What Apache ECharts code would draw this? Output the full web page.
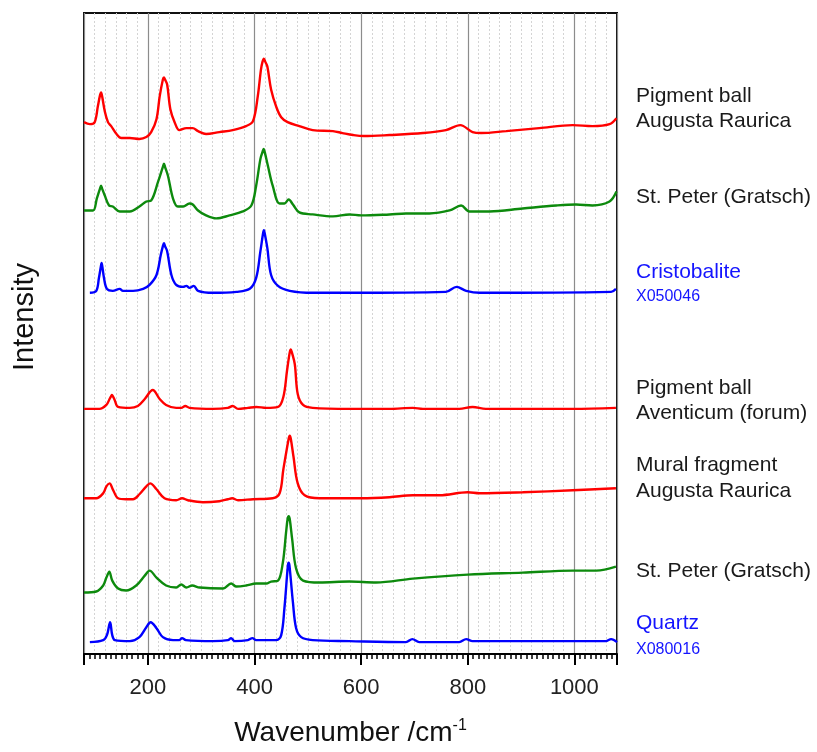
<!DOCTYPE html>
<html>
<head>
<meta charset="utf-8">
<title>Raman spectra</title>
<script src="https://cdn.jsdelivr.net/npm/echarts@6/dist/echarts.min.js"></script>
<style>
  html, body { margin: 0; padding: 0; background: #fff; }
  #chart { width: 817px; height: 752px; }
</style>
</head>
<body>
<div id="chart"></div>
<script>
// Raman spectra, stacked with vertical offsets: [wavenumber /cm-1, intensity + offset]
const pigmentBallAugusta = [
  [80,536],[91,534],[100,536],[106,552],[110,563],[112,566],[114,562],[119,547],[125,536],[131,532],[141,524],[150,520],
  [166,520],[184,519],[197,521],[206,526],[216,539],[222,562],[228,579],[230,581],[232,579],[236,574],[242,549],[250,536],
  [259,528],[272,530],[284,530],[294,527],[309,524],[334,526],[359,528],[384,532],[397,537],[406,562],
  [412,589],[415,597],[417.5,600],[420,597],[424,592],[431,569],[441,551],[450,541],[462,536],[484,532],[509,528],[547,527],
  [565,525],[585,523],[605,522],[653,523],[716,525],[759,528],[786,533],[809,526],[825,525],[872,527],[934,530],
  [997,533],[1034,532],[1066,534],[1079,540]
];
const stPeterUpper = [
  [80,447],[97,447],[104,459],[110,469],[112,472],[114,469],[119,462],[127,452],[134,451],[147,446],[166,446],[184,451],
  [197,456],[206,457],[219,476],[228,491],[230,494],[232,491],[237.5,482],[247,459],[256,451],[266,451],[278,454],[284,453],
  [294,447],[309,442],[328,439],[353,442],[378,446],[394,452],[403,472],[411,499],[415,506],[417,509],[419,506],[425,492],
  [434,472],[447,454],[456,454],[464,458],[472,453],[484,445],[509,443],[547,441],[578,443],[600,442],
  [653,443],[684,444],[728,444],[766,447],[787.5,452],[803,446],[841,446],[903,449],[966,452],[1003,453],
  [1034,452],[1066,456],[1079,466]
];
const cristobalite = [
  [91,364],[103,366],[108,379],[111.5,390],[113,394],[114.5,390],[117.5,379],[123,368],[134,366],[147,368],[153,366],[172,366],
  [191,368],[203,372],[216,382],[224,402],[228,411],[230,414],[232,411],[236,406],[244,382],[253,372],[266,370],[272,371],
  [278,369],[286,371],[294,366],[322,364],[366,365],[391,368],[403,379],[411,406],[416,424],[417.5,427],[419,424],[424,409],
  [431,382],[444,371],[466,366],[509,364],[578,364],[759,365],[779,370],[797,366],[822,364],[1069,365],
  [1078,368]
];
const pigmentBallAventicum = [
  [80,247],[109,247],[122,251],[128,257],[131,260],[132.5,261],[134,260],[137.5,256],[144,249],[166,248],[181,250],[194,257],
  [209,266],[222,257],[234,251],[253,248],[262.5,248],[270,250],[278,248],[322,247],[350,248],[359,250],
  [369,247],[387.5,248],[403,249],[422,248],[444,249],[454,259],[461,286],[466,304],[468,307],[470,304],[475.5,292],[481,262],
  [491,251],[509,248],[578,247],[653,247],[697,248],[716,247],[784,247],[809,249],[834,247],[997,247],
  [1078,248]
];
const muralFragment = [
  [80,157],[103,157],[116,162],[122,169],[128,172],[134,166],[144,157],[159,156],[172,156],[184,161],
  [197,169],[204,172],[216,166],[231,157],[253,155],[264,157],[275,155],[303,153],[334,154],[350,156],
  [358,157],[369,155],[397,156],[434,157],[447,162],[454,186],[464,217],[466,220],[468,217],[473,199],[481,172],[494,160],
  [522,157],[578,157],[600,157],[653,158],[697,160],[747,160],[800,163],[822,162],[903,163],[997,165],
  [1078,167]
];
const stPeterLower = [
  [80,62],[103,63],[116,69],[122,77],[127.5,83],[133,74],[144,66],[159,64],[178,69],[194,79],
  [203,84],[216,77],[234,69],[253,67],[262.5,70],[272,67],[283,69],[297,67],[341,66],[356,71],
  [366,68],[384,69],[403,71],[422,71],[431,73],[444,74],[453,92],[459,122],[462,136],[464,139],[466,136],[470.5,116],
  [478,86],[491,74],[522,72],[578,73],[628,72],[697,76],[800,80],[903,82],[997,84],[1041,84],
  [1078,88]
];
const quartz = [
  [91,12],[116,14],[123,19],[129,32],[133,19],[138,14],[166,13],[184,17],[197,27],[205,32],
  [216,26],[228,17],[247,14],[259,14],[264,16],[271,14],[322,13],[350,14],[356,16],[362.5,13],
  [387.5,14],[396,16],[403,14],[441,14],[450,19],[456,46],[462.5,89],[464,92],[465.5,89],[472,52],[478,26],[487.5,17],
  [509,14],[578,13],[684,12],[696,15],[709,12],[784,12],[797,15],[809,13],[1059,13],[1069,15],
  [1080,12]
];

const spectra = [pigmentBallAugusta, stPeterUpper, cristobalite, pigmentBallAventicum, muralFragment, stPeterLower, quartz];
const spectrumColors = ['#ff0000', '#0d8a0d', '#0000ff', '#ff0000', '#ff0000', '#0d8a0d', '#0000ff'];

// Sample names written beside the right edge of the plot
const sampleLabels = [
  'Pigment ball', 'Augusta Raurica', 'St. Peter (Gratsch)', 'Cristobalite', 'X050046',
  'Pigment ball', 'Aventicum (forum)', 'Mural fragment', 'Augusta Raurica',
  'St. Peter (Gratsch)', 'Quartz', 'X080016'
];
const sampleLabelKinds = ['name','name','name','ref','refId','name','name','name','name','name','ref','refId'];
const sampleLabelY = [96, 121, 197, 272.5, 297, 388, 413.5, 465.5, 491, 571, 623.5, 649.5];

const FONT = '"Liberation Sans", Arial, sans-serif';
const chart = echarts.init(document.getElementById('chart'), null, { renderer: 'canvas' });

const labelStyle = {
  name:  { fill: '#1a1a1a', fontSize: 21 },
  ref:   { fill: '#1414ff', fontSize: 21 },
  refId: { fill: '#1414ff', fontSize: 16 }
};

const graphics = sampleLabels.map((txt, i) => ({
  type: 'text',
  left: 636,
  top: sampleLabelY[i] - labelStyle[sampleLabelKinds[i]].fontSize / 2,
  style: {
    text: txt,
    fill: labelStyle[sampleLabelKinds[i]].fill,
    fontSize: labelStyle[sampleLabelKinds[i]].fontSize,
    fontFamily: FONT
  }
}));
graphics.push({
  type: 'text',
  x: 25,
  y: 317,
  rotation: Math.PI / 2,
  style: {
    text: 'Intensity',
    fill: '#111',
    fontSize: 29,
    fontFamily: FONT,
    align: 'center',
    verticalAlign: 'middle'
  }
});

chart.setOption({
  animation: false,
  backgroundColor: '#fff',
  grid: {
    left: 84, right: 200, top: 13, bottom: 93,
    show: true, borderColor: '#111', borderWidth: 2, backgroundColor: '#fff'
  },
  xAxis: [
    {
      type: 'value', min: 80, max: 1080, splitNumber: 5,
      position: 'bottom',
      name: '{t|Wavenumber /cm}{s|-1}',
      nameLocation: 'middle', nameGap: 64,
      nameTextStyle: {
        rich: {
          t: { fontSize: 28, fontFamily: FONT, color: '#111', lineHeight: 30 },
          s: { fontSize: 16, fontFamily: FONT, color: '#111', verticalAlign: 'top', lineHeight: 16 }
        }
      },
      axisLine: { show: true, lineStyle: { color: '#000', width: 2 } },
      axisTick: { show: true, inside: false, length: 11, lineStyle: { color: '#000', width: 2 } },
      minorTick: { show: true, splitNumber: 20, length: 5, lineStyle: { color: '#000', width: 1.5 } },
      axisLabel: {
        showMinLabel: false, showMaxLabel: false, margin: 23,
        fontSize: 22, fontFamily: FONT, color: '#222',
        formatter: v => String(v)
      },
      splitLine: { show: true, lineStyle: { color: '#8c8c8c', width: 1.2 } }
    },
    {
      // fine dotted grid every 20 cm-1
      type: 'value', min: 80, max: 1080, splitNumber: 5,
      position: 'bottom',
      axisLine: { show: false }, axisTick: { show: false }, axisLabel: { show: false },
      splitLine: { show: false },
      minorTick: { show: false, splitNumber: 10 },
      minorSplitLine: { show: true, lineStyle: { color: '#d4d4d4', width: 1, type: [2, 2] } }
    }
  ],
  yAxis: {
    type: 'value', min: 0, max: 646,
    axisLine: { show: false }, axisTick: { show: false }, axisLabel: { show: false },
    splitLine: { show: false }
  },
  series: spectra.map((d, i) => ({
    type: 'line',
    data: d,
    xAxisIndex: 0,
    showSymbol: false,
    smooth: 0.35,
    lineStyle: { color: spectrumColors[i], width: 2.4 },
    itemStyle: { color: spectrumColors[i] },
    z: 3
  })),
  graphic: graphics
});
</script>
</body>
</html>
